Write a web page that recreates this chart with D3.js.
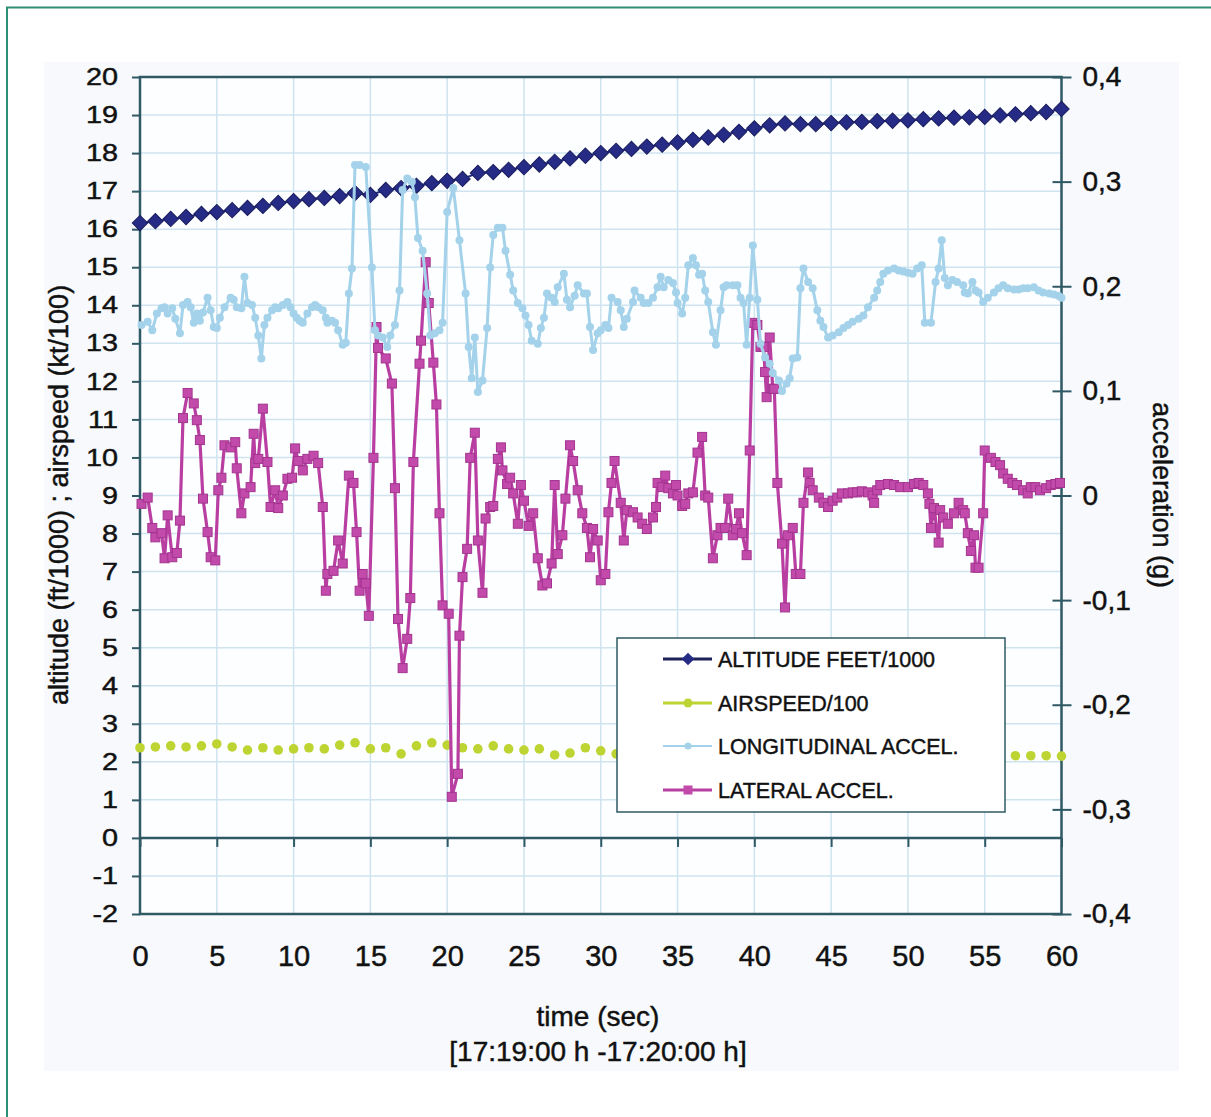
<!DOCTYPE html>
<html>
<head>
<meta charset="utf-8">
<script src="https://cdn.jsdelivr.net/npm/d3@7"></script>
<style>
  body { margin: 0; background: #fff; }
  text { font-family: "Liberation Sans", Arial, sans-serif; fill: #111; stroke: #111; stroke-width: 0.45px; }
</style>
</head>
<body>
<div id="chart"></div>
<script>
// ---- data ----
const xTicks = [0, 5, 10, 15, 20, 25, 30, 35, 40, 45, 50, 55, 60];
const leftTicks = [-2, -1, 0, 1, 2, 3, 4, 5, 6, 7, 8, 9, 10, 11, 12, 13, 14, 15, 16, 17, 18, 19, 20];
const rightTicks = [-0.4, -0.3, -0.2, -0.1, 0, 0.1, 0.2, 0.3, 0.4];

// 1 Hz samples, seconds 0..60
const seconds = d3.range(0, 61);

// altitude, ft/1000
const altitude = [16.16, 16.21, 16.27, 16.32, 16.40, 16.45, 16.50, 16.56, 16.61, 16.69,
    16.74, 16.79, 16.82, 16.87, 16.95, 16.90, 17.03, 17.08, 17.14, 17.21,
    17.27, 17.32, 17.48, 17.50, 17.56, 17.63, 17.70, 17.77, 17.86, 17.93,
    18.00, 18.06, 18.11, 18.17, 18.22, 18.28, 18.35, 18.41, 18.48, 18.56,
    18.65, 18.73, 18.78, 18.76, 18.76, 18.79, 18.81, 18.82, 18.84, 18.85,
    18.86, 18.89, 18.91, 18.93, 18.94, 18.95, 18.99, 19.02, 19.05, 19.08, 19.16];

// airspeed, kt/100 (32..56 s sit behind the legend)
const airspeed = [2.37, 2.39, 2.42, 2.39, 2.42, 2.47, 2.39, 2.31, 2.37, 2.31,
    2.34, 2.37, 2.34, 2.44, 2.50, 2.34, 2.37, 2.21, 2.42, 2.50,
    2.44, 2.37, 2.34, 2.42, 2.34, 2.31, 2.34, 2.18, 2.23, 2.37,
    2.29, 2.21, 2.24, 2.22, 2.26, 2.21, 2.19, 2.23, 2.25, 2.20,
    2.18, 2.22, 2.24, 2.21, 2.19, 2.20, 2.23, 2.22, 2.18, 2.20,
    2.21, 2.19, 2.17, 2.20, 2.18, 2.16, 2.17, 2.16, 2.16, 2.16, 2.15];

// longitudinal acceleration (g)
const lonT = [0.1, 0.5, 0.8, 1.1, 1.4, 1.6, 1.8, 2.1, 2.3, 2.6,
    2.8, 3.1, 3.3, 3.5, 3.7, 3.9, 4.1, 4.4, 4.6, 4.8,
    5.0, 5.2, 5.5, 5.9, 6.1, 6.3, 6.6, 6.8, 7.0, 7.3,
    7.5, 7.7, 7.9, 8.1, 8.3, 8.6, 8.8, 9.0, 9.3, 9.6,
    9.8, 10.0, 10.2, 10.4, 10.6, 10.9, 11.2, 11.4, 11.6, 11.9,
    12.1, 12.2, 12.5, 12.7, 12.9, 13.2, 13.4, 13.6, 13.8, 14.0,
    14.3, 14.7, 15.1, 15.3, 15.5, 15.8, 16.1, 16.3, 16.6, 16.9,
    17.1, 17.4, 17.7, 17.9, 18.1, 18.4, 18.7, 18.9, 19.2, 19.5,
    19.7, 20.0, 20.4, 20.8, 21.2, 21.4, 21.6, 21.8, 22.0, 22.3,
    22.6, 22.8, 23.0, 23.3, 23.6, 23.8, 24.1, 24.3, 24.6, 24.9,
    25.1, 25.3, 25.5, 25.9, 26.1, 26.3, 26.5, 26.8, 27.0, 27.2,
    27.6, 27.8, 28.0, 28.3, 28.5, 28.9, 29.1, 29.3, 29.5, 29.8,
    30.0, 30.3, 30.5, 30.7, 31.1, 31.3, 31.5, 31.7, 32.1, 32.2,
    32.6, 32.8, 33.1, 33.4, 33.7, 33.9, 34.1, 34.4, 34.7, 34.9,
    35.0, 35.3, 35.5, 35.7, 36.0, 36.2, 36.4, 36.6, 36.8, 37.0,
    37.3, 37.5, 37.8, 38.0, 38.2, 38.6, 38.9, 39.1, 39.3, 39.5,
    39.7, 39.9, 40.2, 40.4, 40.7, 41.0, 41.2, 41.6, 41.8, 42.1,
    42.3, 42.5, 42.8, 43.0, 43.2, 43.5, 43.8, 44.1, 44.3, 44.5,
    44.8, 45.1, 45.5, 45.8, 46.1, 46.4, 46.8, 47.1, 47.4, 47.8,
    48.0, 48.2, 48.4, 48.7, 49.1, 49.4, 49.7, 50.0, 50.3, 50.6,
    50.9, 51.1, 51.5, 51.8, 52.0, 52.2, 52.4, 52.6, 52.9, 53.2,
    53.6, 53.7, 53.9, 54.2, 54.4, 54.6, 54.9, 55.2, 55.6, 55.9,
    56.2, 56.5, 56.9, 57.2, 57.5, 57.8, 58.2, 58.5, 58.8, 59.2,
    59.5, 59.8, 60.0];
const lonG = [0.163, 0.166, 0.158, 0.174, 0.179, 0.180, 0.174, 0.179, 0.169, 0.155,
    0.182, 0.185, 0.180, 0.165, 0.174, 0.167, 0.175, 0.189, 0.177, 0.161,
    0.160, 0.170, 0.180, 0.189, 0.187, 0.180, 0.179, 0.209, 0.184, 0.182,
    0.170, 0.153, 0.131, 0.163, 0.170, 0.177, 0.180, 0.179, 0.182, 0.185,
    0.180, 0.174, 0.170, 0.167, 0.165, 0.174, 0.180, 0.182, 0.180, 0.177,
    0.170, 0.165, 0.167, 0.165, 0.158, 0.144, 0.146, 0.193, 0.217, 0.316,
    0.316, 0.314, 0.218, 0.158, 0.153, 0.151, 0.142, 0.153, 0.163, 0.196,
    0.292, 0.303, 0.300, 0.285, 0.246, 0.234, 0.193, 0.153, 0.155, 0.158,
    0.165, 0.271, 0.294, 0.244, 0.193, 0.142, 0.112, 0.151, 0.099, 0.110,
    0.160, 0.218, 0.249, 0.256, 0.256, 0.234, 0.211, 0.196, 0.184, 0.179,
    0.172, 0.163, 0.148, 0.145, 0.160, 0.170, 0.193, 0.189, 0.185, 0.199,
    0.212, 0.187, 0.180, 0.191, 0.201, 0.193, 0.193, 0.161, 0.139, 0.155,
    0.158, 0.163, 0.160, 0.189, 0.185, 0.177, 0.161, 0.169, 0.185, 0.196,
    0.189, 0.184, 0.184, 0.189, 0.199, 0.209, 0.199, 0.206, 0.203, 0.194,
    0.184, 0.174, 0.189, 0.220, 0.227, 0.220, 0.211, 0.212, 0.196, 0.185,
    0.156, 0.144, 0.177, 0.199, 0.201, 0.201, 0.201, 0.189, 0.184, 0.144,
    0.189, 0.239, 0.187, 0.145, 0.132, 0.126, 0.117, 0.110, 0.100, 0.107,
    0.112, 0.131, 0.132, 0.198, 0.217, 0.204, 0.198, 0.177, 0.167, 0.161,
    0.151, 0.153, 0.156, 0.160, 0.163, 0.166, 0.169, 0.172, 0.180, 0.189,
    0.196, 0.204, 0.212, 0.215, 0.217, 0.215, 0.214, 0.213, 0.212, 0.217,
    0.220, 0.165, 0.165, 0.204, 0.217, 0.244, 0.208, 0.201, 0.206, 0.204,
    0.201, 0.194, 0.193, 0.204, 0.196, 0.194, 0.185, 0.189, 0.194, 0.198,
    0.201, 0.198, 0.197, 0.197, 0.198, 0.198, 0.199, 0.196, 0.194, 0.193,
    0.192, 0.191, 0.189];

// lateral acceleration (g)
const latT = [0.1, 0.5, 0.8, 1.0, 1.4, 1.6, 1.8, 2.1, 2.4, 2.6,
    2.8, 3.1, 3.5, 3.7, 3.9, 4.1, 4.4, 4.6, 4.9, 5.1,
    5.3, 5.5, 5.9, 6.2, 6.3, 6.6, 6.8, 7.2, 7.4, 7.5,
    7.7, 8.0, 8.3, 8.5, 8.8, 9.0, 9.3, 9.6, 9.9, 10.1,
    10.3, 10.6, 10.9, 11.3, 11.6, 11.9, 12.1, 12.2, 12.6, 12.9,
    13.2, 13.6, 13.9, 14.1, 14.3, 14.5, 14.7, 14.9, 15.2, 15.4,
    15.5, 16.0, 16.4, 16.6, 16.8, 17.1, 17.4, 17.6, 17.8, 18.2,
    18.3, 18.6, 18.8, 19.1, 19.3, 19.5, 19.7, 20.1, 20.3, 20.7,
    20.8, 21.0, 21.3, 21.5, 21.8, 22.0, 22.3, 22.5, 22.8, 23.0,
    23.3, 23.5, 23.6, 23.9, 24.1, 24.3, 24.6, 24.8, 25.0, 25.3,
    25.6, 25.9, 26.2, 26.5, 26.8, 27.0, 27.2, 27.5, 27.7, 28.0,
    28.2, 28.5, 28.8, 29.1, 29.3, 29.5, 29.8, 30.0, 30.3, 30.5,
    30.7, 30.9, 31.3, 31.5, 31.7, 32.1, 32.4, 32.7, 33.0, 33.4,
    33.6, 33.7, 34.0, 34.2, 34.4, 34.7, 34.9, 35.0, 35.3, 35.5,
    35.7, 36.0, 36.3, 36.6, 36.8, 37.0, 37.3, 37.6, 37.8, 38.1,
    38.3, 38.6, 38.8, 39.0, 39.2, 39.5, 39.7, 39.9, 40.2, 40.4,
    40.6, 40.7, 40.8, 41.0, 41.2, 41.3, 41.5, 41.8, 42.0, 42.2,
    42.5, 42.7, 43.0, 43.2, 43.5, 43.6, 43.8, 44.2, 44.5, 44.8,
    45.1, 45.4, 45.7, 46.1, 46.4, 46.7, 47.0, 47.4, 47.7, 47.8,
    48.0, 48.2, 48.7, 49.1, 49.5, 50.0, 50.4, 50.7, 51.0, 51.3,
    51.4, 51.5, 51.7, 52.0, 52.1, 52.3, 52.6, 53.0, 53.3, 53.6,
    53.7, 53.9, 54.1, 54.3, 54.4, 54.6, 54.9, 55.0, 55.4, 55.7,
    56.0, 56.2, 56.5, 56.8, 57.1, 57.5, 57.8, 58.0, 58.3, 58.6,
    59.0, 59.3, 59.6, 59.9];
const latG = [-0.008, -0.002, -0.031, -0.040, -0.036, -0.060, -0.019, -0.059, -0.055, -0.024,
    0.074, 0.098, 0.088, 0.072, 0.053, -0.003, -0.035, -0.059, -0.062, 0.005,
    0.017, 0.048, 0.046, 0.051, 0.026, -0.017, 0.002, 0.008, 0.059, 0.031,
    0.035, 0.083, 0.032, -0.011, 0.005, -0.012, 0.000, 0.016, 0.017, 0.045,
    0.033, 0.024, 0.035, 0.038, 0.031, -0.011, -0.091, -0.075, -0.072, -0.043,
    -0.065, 0.019, 0.012, -0.035, -0.091, -0.075, -0.084, -0.115, 0.036, 0.161,
    0.141, 0.131, 0.107, 0.007, -0.118, -0.165, -0.137, -0.098, 0.032, 0.126,
    0.148, 0.223, 0.184, 0.127, 0.087, -0.017, -0.105, -0.113, -0.288, -0.266,
    -0.134, -0.078, -0.051, 0.036, 0.060, -0.043, -0.093, -0.022, -0.011, -0.010,
    0.035, 0.046, 0.024, 0.011, 0.017, 0.002, -0.027, 0.010, -0.005, -0.029,
    -0.017, -0.060, -0.086, -0.084, -0.065, 0.010, -0.056, -0.038, -0.003, 0.048,
    0.033, 0.005, -0.017, -0.031, -0.059, -0.032, -0.043, -0.081, -0.075, -0.016,
    0.012, 0.033, -0.007, -0.043, -0.014, -0.016, -0.021, -0.027, -0.032, -0.021,
    -0.011, 0.012, 0.008, 0.019, 0.007, 0.002, 0.010, 0.000, -0.010, -0.008,
    0.002, 0.003, 0.041, 0.056, 0.000, -0.002, -0.060, -0.038, -0.031, -0.031,
    -0.003, -0.038, -0.032, -0.017, -0.036, -0.057, 0.043, 0.165, 0.163, 0.142,
    0.142, 0.118, 0.094, 0.151, 0.102, 0.102, 0.012, -0.046, -0.107, -0.038,
    -0.031, -0.075, -0.075, -0.007, 0.022, 0.012, 0.005, -0.002, -0.007, -0.011,
    -0.005, -0.002, 0.002, 0.002, 0.003, 0.003, 0.004, 0.003, 0.000, -0.007,
    0.005, 0.010, 0.011, 0.010, 0.008, 0.008, 0.011, 0.012, 0.010, 0.002,
    -0.008, -0.031, -0.012, -0.045, -0.014, -0.021, -0.027, -0.017, -0.007, -0.014,
    -0.017, -0.036, -0.053, -0.038, -0.069, -0.069, -0.017, 0.043, 0.036, 0.032,
    0.029, 0.021, 0.016, 0.012, 0.010, 0.005, 0.002, 0.008, 0.008, 0.005,
    0.007, 0.010, 0.011, 0.012];

const legendLabels = ["ALTITUDE FEET/1000", "AIRSPEED/100", "LONGITUDINAL ACCEL.", "LATERAL ACCEL."];

// ---- colours ----
const teal = "#2f8f74";
const frame = "#2f5964";
const gridColor = "#cfe4ef";
const navy = "#262b86";
const lime = "#bdd432";
const skyblue = "#a3d2ea";
const magenta = "#b83ea2";

// ---- layout ----
const width = 1211;
const height = 1117;
const plot = { left: 140, right: 1061.5, top: 77, bottom: 914 };

const svg = d3.select("#chart")
    .append("svg")
    .attr("width", width)
    .attr("height", height);

// page frame and grey panel
svg.append("rect")
    .attr("x", 7).attr("y", 7.5)
    .attr("width", 1300).attr("height", 1300)
    .attr("fill", "none")
    .attr("stroke", teal)
    .attr("stroke-width", 2);

svg.append("rect")
    .attr("x", 44).attr("y", 62)
    .attr("width", 1135).attr("height", 1009)
    .attr("fill", "#f7f9fc");

const x = d3.scaleLinear().domain([0, 60]).range([plot.left, plot.right]);
const yL = d3.scaleLinear().domain([-2, 20]).range([plot.bottom, plot.top]);
const yR = d3.scaleLinear().domain([-0.4, 0.4]).range([plot.bottom, plot.top]);

svg.append("rect")
    .attr("x", plot.left).attr("y", plot.top)
    .attr("width", plot.right - plot.left)
    .attr("height", plot.bottom - plot.top)
    .attr("fill", "#fdfeff");

// grid
svg.append("g")
    .selectAll("line")
    .data(leftTicks)
    .join("line")
        .attr("x1", plot.left).attr("x2", plot.right)
        .attr("y1", d => yL(d)).attr("y2", d => yL(d))
        .attr("stroke", gridColor)
        .attr("stroke-width", 1.5);

svg.append("g")
    .selectAll("line")
    .data(xTicks)
    .join("line")
        .attr("x1", d => x(d)).attr("x2", d => x(d))
        .attr("y1", plot.top).attr("y2", plot.bottom)
        .attr("stroke", gridColor)
        .attr("stroke-width", 1.5);

// left axis
const leftAxis = svg.append("g")
    .attr("transform", `translate(${plot.left},0)`)
    .call(d3.axisLeft(yL).tickValues(leftTicks).tickSize(8).tickSizeOuter(0).tickFormat(d => String(d)));
leftAxis.select(".domain").remove();
leftAxis.selectAll("line").attr("stroke", frame).attr("stroke-width", 2);
leftAxis.selectAll("text")
    .attr("x", -22 / 1.2)
    .attr("transform", "scale(1.2,1)")
    .style("font-size", "24px");

// right axis
const rightAxis = svg.append("g")
    .attr("transform", `translate(${plot.right},0)`)
    .call(d3.axisRight(yR).tickValues(rightTicks).tickSize(10).tickSizeOuter(0)
        .tickFormat(d => d === 0 ? "0" : d.toFixed(1).replace(".", ",")));
rightAxis.select(".domain").remove();
rightAxis.selectAll("line").attr("x1", -9).attr("x2", 10).attr("stroke", frame).attr("stroke-width", 2);
rightAxis.selectAll("text")
    .attr("x", 21)
    .style("font-size", "28px");

// x ticks hang from the zero line, labels sit below the plot
const zeroAxis = svg.append("g")
    .attr("transform", `translate(0,${yL(0)})`)
    .call(d3.axisBottom(x).tickValues(xTicks).tickSize(9).tickSizeOuter(0).tickFormat(""));
zeroAxis.select(".domain").remove();
zeroAxis.selectAll("line").attr("stroke", frame).attr("stroke-width", 2);

const xLabels = svg.append("g")
    .attr("transform", `translate(0,${plot.bottom})`)
    .call(d3.axisBottom(x).tickValues(xTicks).tickSize(0).tickFormat(d => String(d)));
xLabels.select(".domain").remove();
xLabels.selectAll("text")
    .attr("y", 52)
    .attr("dy", 0)
    .style("font-size", "29px");

// frame lines
svg.append("rect")
    .attr("x", plot.left).attr("y", plot.top)
    .attr("width", plot.right - plot.left)
    .attr("height", plot.bottom - plot.top)
    .attr("fill", "none")
    .attr("stroke", frame)
    .attr("stroke-width", 2.5);

svg.append("line")
    .attr("x1", plot.left).attr("x2", plot.right)
    .attr("y1", yL(0)).attr("y2", yL(0))
    .attr("stroke", frame)
    .attr("stroke-width", 2.5);

// ---- series ----
const altData = seconds.map((t, i) => ({ t: t, v: altitude[i] }));
const airData = seconds.map((t, i) => ({ t: t, v: airspeed[i] }));
const lonData = lonT.map((t, i) => ({ t: t, g: lonG[i] }));
const latData = latT.map((t, i) => ({ t: t, g: latG[i] }));

const lineL = d3.line().x(d => x(d.t)).y(d => yL(d.v));
const lineR = d3.line().x(d => x(d.t)).y(d => yR(d.g));

// altitude
svg.append("path")
    .datum(altData)
    .attr("d", lineL)
    .attr("fill", "none")
    .attr("stroke", navy)
    .attr("stroke-width", 2);

svg.selectAll(".alt")
    .data(altData)
    .join("path")
        .attr("class", "alt")
        .attr("d", d3.symbol(d3.symbolSquare, 118))
        .attr("transform", d => `translate(${x(d.t)},${yL(d.v)}) rotate(45)`)
        .attr("fill", navy)
        .attr("stroke", "#1a1d5c")
        .attr("stroke-width", 1);

// airspeed (dots only)
svg.selectAll(".air")
    .data(airData)
    .join("circle")
        .attr("class", "air")
        .attr("cx", d => x(d.t))
        .attr("cy", d => yL(d.v))
        .attr("r", 4.8)
        .attr("fill", lime);

// lateral
svg.append("path")
    .datum(latData)
    .attr("d", lineR)
    .attr("fill", "none")
    .attr("stroke", magenta)
    .attr("stroke-width", 3.2)
    .attr("stroke-linejoin", "round");

svg.selectAll(".lat")
    .data(latData)
    .join("rect")
        .attr("class", "lat")
        .attr("x", d => x(d.t) - 4.5)
        .attr("y", d => yR(d.g) - 4.5)
        .attr("width", 9)
        .attr("height", 9)
        .attr("fill", "#c24aab")
        .attr("stroke", "#a3348f")
        .attr("stroke-width", 1);

// longitudinal
svg.append("path")
    .datum(lonData)
    .attr("d", lineR)
    .attr("fill", "none")
    .attr("stroke", skyblue)
    .attr("stroke-width", 3)
    .attr("stroke-linejoin", "round");

svg.selectAll(".lon")
    .data(lonData)
    .join("circle")
        .attr("class", "lon")
        .attr("cx", d => x(d.t))
        .attr("cy", d => yR(d.g))
        .attr("r", 4)
        .attr("fill", skyblue);

// ---- legend ----
const legend = svg.append("g").attr("transform", "translate(617,638)");
legend.append("rect")
    .attr("width", 388)
    .attr("height", 174)
    .attr("fill", "#fff")
    .attr("stroke", frame)
    .attr("stroke-width", 1.5);

const rowY = [21, 65, 108, 152];
const rowColors = ["#1d2158", lime, skyblue, magenta];
const rows = legend.selectAll(".row")
    .data(legendLabels)
    .join("g")
        .attr("class", "row")
        .attr("transform", (d, i) => `translate(0,${rowY[i]})`);

rows.append("line")
    .attr("x1", 46).attr("x2", 95)
    .attr("stroke", (d, i) => rowColors[i])
    .attr("stroke-width", (d, i) => i === 2 ? 2 : 3);

rows.each(function (d, i) {
    const g = d3.select(this);
    if (i === 0) {
        g.append("path")
            .attr("d", d3.symbol(d3.symbolSquare, 80))
            .attr("transform", "translate(71,0) rotate(45)")
            .attr("fill", navy);
    } else if (i === 1) {
        g.append("circle").attr("cx", 71).attr("r", 4.5).attr("fill", lime);
    } else if (i === 2) {
        g.append("circle").attr("cx", 71).attr("r", 3.5).attr("fill", skyblue);
    } else {
        g.append("rect").attr("x", 66.5).attr("y", -4.5).attr("width", 9).attr("height", 9).attr("fill", "#c24aab");
    }
});

rows.append("text")
    .attr("x", 101)
    .attr("dy", "0.36em")
    .style("font-size", "21.5px")
    .text(d => d);

// ---- axis titles ----
svg.append("text")
    .attr("transform", "translate(68,495) rotate(-90)")
    .attr("text-anchor", "middle")
    .style("font-size", "27px")
    .text("altitude (ft/1000) ; airspeed (kt/100)");

svg.append("text")
    .attr("transform", "translate(1153,495) rotate(90)")
    .attr("text-anchor", "middle")
    .style("font-size", "27px")
    .text("acceleration (g)");

svg.append("text")
    .attr("x", 598)
    .attr("y", 1026)
    .attr("text-anchor", "middle")
    .style("font-size", "28px")
    .text("time (sec)");

svg.append("text")
    .attr("x", 598)
    .attr("y", 1061)
    .attr("text-anchor", "middle")
    .style("font-size", "28px")
    .text("[17:19:00 h -17:20:00 h]");
</script>
</body>
</html>
